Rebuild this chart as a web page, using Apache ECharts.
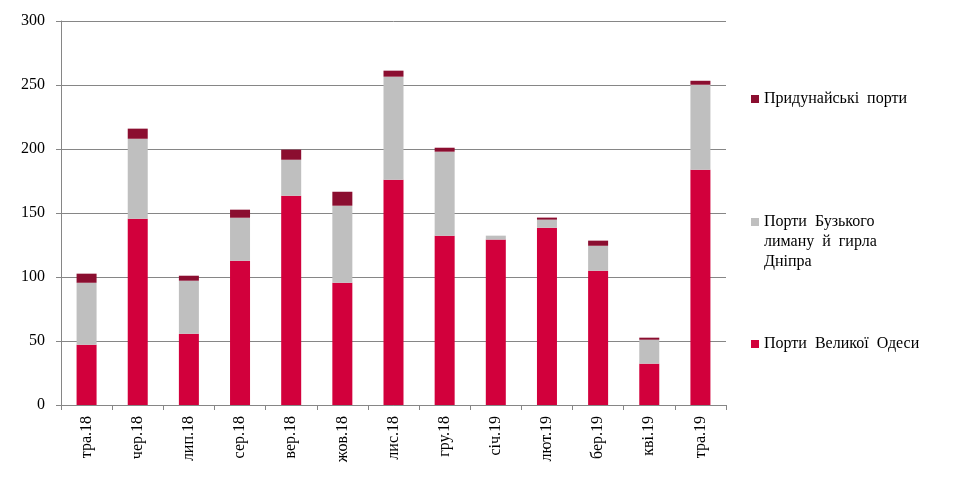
<!DOCTYPE html>
<html>
<head>
<meta charset="utf-8">
<script src="https://cdn.jsdelivr.net/npm/echarts@6/dist/echarts.min.js"></script>
<style>
  html, body { margin: 0; padding: 0; background: #fff; }
  #chart { width: 963px; height: 501px; }
</style>
</head>
<body>
<div id="chart"></div>
<script>
// місяці
var months = ['тра.18', 'чер.18', 'лип.18', 'сер.18', 'вер.18', 'жов.18', 'лис.18',
  'гру.18', 'січ.19', 'лют.19', 'бер.19', 'кві.19', 'тра.19'];
// Порти Великої Одеси
var odesa = [47.1, 145.5, 55.7, 112.7, 163.5, 95.5, 176.0, 132.3, 129.2, 138.5, 104.9, 32.3, 183.8];
// Порти Бузького лиману й гирла Дніпра
var buh = [48.4, 62.5, 41.4, 33.6, 28.1, 60.2, 80.5, 65.6, 3.1, 6.3, 19.5, 18.7, 66.4];
// Придунайські порти
var danube = [7.1, 7.9, 3.9, 6.3, 7.9, 10.9, 4.7, 3.1, 0, 1.6, 4.0, 1.6, 3.1];
var yTicks = [0, 50, 100, 150, 200, 250, 300];

var font = '"Liberation Serif", "Times New Roman", serif';
var axisGray = '#868686';

var chart = echarts.init(document.getElementById('chart'));

// легенда - три окремі блоки праворуч
function legendBlock(name, top) {
  return {
    data: [name],
    left: 751,
    top: top,
    orient: 'vertical',
    icon: 'rect',
    itemWidth: 8,
    itemHeight: 8,
    itemGap: 0,
    padding: 0,
    selectedMode: false,
    textStyle: { fontFamily: font, fontSize: 16, color: '#000', lineHeight: 20 },
    formatter: function (n) {
      if (n === 'Порти Бузького лиману й гирла Дніпра') {
        return '\n\nПорти  Бузького\nлиману  й  гирла\nДніпра';
      }
      if (n === 'Придунайські порти') return 'Придунайські  порти';
      return 'Порти  Великої  Одеси';
    }
  };
}

var option = {
  animation: false,
  backgroundColor: '#fff',
  grid: { left: 61, right: 237, top: 21, bottom: 96 },
  legend: [
    legendBlock('Придунайські порти', 89),
    legendBlock('Порти Бузького лиману й гирла Дніпра', 172),
    legendBlock('Порти Великої Одеси', 334)
  ],
  xAxis: {
    type: 'category',
    data: months,
    axisLine: { lineStyle: { color: axisGray } },
    axisTick: { show: true, length: 5, lineStyle: { color: axisGray } },
    axisLabel: { rotate: 90, margin: 11, fontFamily: font, fontSize: 16, color: '#000' }
  },
  yAxis: {
    type: 'value',
    min: 0,
    max: 300,
    interval: 50,
    axisLine: { show: true, lineStyle: { color: axisGray } },
    axisTick: { show: true, length: 5, lineStyle: { color: axisGray } },
    axisLabel: {
      margin: 16, fontFamily: font, fontSize: 16, color: '#000',
      formatter: function (v) { return yTicks.indexOf(v) >= 0 ? String(v) : ''; }
    },
    splitLine: { lineStyle: { color: axisGray } }
  },
  series: [
    {
      name: 'Порти Великої Одеси',
      type: 'bar',
      stack: 'total',
      barWidth: 20,
      data: odesa,
      itemStyle: { color: '#D2003C' }
    },
    {
      name: 'Порти Бузького лиману й гирла Дніпра',
      type: 'bar',
      stack: 'total',
      barWidth: 20,
      data: buh,
      itemStyle: { color: '#BFBFBF' }
    },
    {
      name: 'Придунайські порти',
      type: 'bar',
      stack: 'total',
      barWidth: 20,
      data: danube,
      itemStyle: { color: '#8B0E30' }
    }
  ]
};

chart.setOption(option);
</script>
</body>
</html>
